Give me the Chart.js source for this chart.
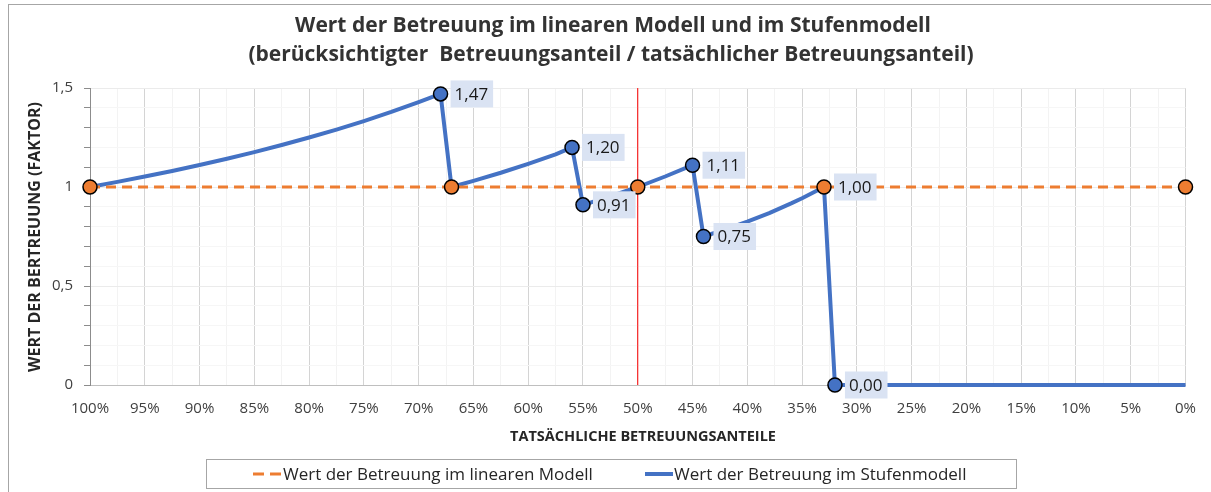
<!DOCTYPE html>
<html>
<head>
<meta charset="utf-8">
<script src="https://cdn.jsdelivr.net/npm/chart.js@4"></script>
<style>
html,body{margin:0;padding:0;background:#fff;}
#wrap{width:1211px;height:492px;position:relative;}
</style>
</head>
<body>
<div id="wrap"><canvas id="c"></canvas></div>
<script>
// ---- data ----
const titleLines = ['Wert der Betreuung im linearen Modell und im Stufenmodell',
                    '(berücksichtigter  Betreuungsanteil / tatsächlicher Betreuungsanteil)'];
const xAxisTitle = 'TATSÄCHLICHE BETREUUNGSANTEILE';
const yAxisTitle = 'WERT DER BERTREUUNG (FAKTOR)';
const seriesNames = ['Wert der Betreuung im linearen Modell', 'Wert der Betreuung im Stufenmodell'];

const linearX = [100, 67, 50, 33, 0];
const linearY = [1, 1, 1, 1, 1];

const stufenX = [100, 97.5, 95, 92.5, 90, 87.5, 85, 82.5, 80, 77.5, 75, 72.5, 70, 68,
                 67, 65, 62.5, 60, 57.5, 56,
                 55, 52.5, 50, 47.5, 45,
                 44, 42, 40, 38, 36, 35, 33,
                 32, 0];
const stufenY = [1.000, 1.026, 1.053, 1.081, 1.111, 1.143, 1.176, 1.212, 1.250, 1.290, 1.333, 1.379, 1.429, 1.47,
                 1.000, 1.031, 1.072, 1.117, 1.165, 1.20,
                 0.91, 0.952, 1.000, 1.053, 1.11,
                 0.75, 0.786, 0.825, 0.868, 0.917, 0.943, 1.00,
                 0.00, 0.00];

const stufenMarkerX = [68, 56, 55, 45, 44, 32];
const labelledX = [68, 56, 55, 45, 44, 33, 32];

const redLineX = [50, 50];
const redLineY = [0, 1.5];

const xTickStep = 5;
const yTickLabels = [0, 0.5, 1, 1.5];

// ---- build ----
const pts = (xs, ys) => xs.map((x, i) => ({x: x, y: ys[i]}));
const FONT = '"Open Sans", Lato, sans-serif';
const fmt = v => v.toFixed(2).replace('.', ',');

const overlay = {
  id: 'overlay',
  beforeDraw(chart) {
    const ctx = chart.ctx;
    ctx.save();
    ctx.fillStyle = '#fff';
    ctx.fillRect(0, 0, chart.width, chart.height);
    ctx.strokeStyle = '#a6a6a6';
    ctx.lineWidth = 1;
    ctx.strokeRect(8.5, 4.5, chart.width + 20, chart.height + 20);
    ctx.restore();
  },
  afterDatasetsDraw(chart) {
    const ctx = chart.ctx;
    const meta = chart.getDatasetMeta(1);
    ctx.save();
    ctx.font = '17px ' + FONT;
    ctx.textBaseline = 'middle';
    meta.data.forEach((el, i) => {
      const raw = chart.data.datasets[1].data[i];
      if (!labelledX.includes(raw.x)) return;
      const t = fmt(raw.y);
      const w = ctx.measureText(t).width + 9;
      ctx.fillStyle = '#dae3f3';
      ctx.fillRect(el.x + 10, el.y - 13.5, w, 27);
      ctx.fillStyle = '#1a1a1a';
      ctx.textAlign = 'left';
      ctx.fillText(t, el.x + 14, el.y + 1);
    });
    ctx.restore();
  },
  afterDraw(chart) {
    const ctx = chart.ctx;
    ctx.save();
    // title
    ctx.fillStyle = '#333333';
    ctx.font = 'bold 21px ' + FONT;
    ctx.textAlign = 'center';
    ctx.textBaseline = 'middle';
    ctx.fillText(titleLines[0], 613, 26);
    ctx.fillText(titleLines[1], 611, 55);
    // axis titles
    ctx.fillStyle = '#262626';
    ctx.font = 'bold 14.5px ' + FONT;
    ctx.fillText(xAxisTitle, 643, 437);
    ctx.save();
    ctx.translate(35, 237);
    ctx.rotate(-Math.PI / 2);
    ctx.font = 'bold 16px ' + FONT;
    ctx.fillText(yAxisTitle, 0, 0);
    ctx.restore();
    // legend
    ctx.strokeStyle = '#a6a6a6';
    ctx.lineWidth = 1;
    ctx.strokeRect(206.5, 459.5, 810, 29);
    const ly = 474;
    ctx.strokeStyle = '#ED7D31';
    ctx.lineWidth = 3;
    ctx.setLineDash([11, 6]);
    ctx.beginPath(); ctx.moveTo(253, ly); ctx.lineTo(282, ly); ctx.stroke();
    ctx.setLineDash([]);
    ctx.strokeStyle = '#4472C4';
    ctx.lineWidth = 4;
    ctx.beginPath(); ctx.moveTo(645, ly); ctx.lineTo(673, ly); ctx.stroke();
    ctx.fillStyle = '#262626';
    ctx.font = '17px ' + FONT;
    ctx.textAlign = 'left';
    ctx.fillText(seriesNames[0], 283, ly + 1);
    ctx.fillText(seriesNames[1], 674, ly + 1);
    ctx.restore();
  }
};

new Chart(document.getElementById('c'), {
  type: 'line',
  data: {
    datasets: [
      {
        label: seriesNames[0],
        data: pts(linearX, linearY),
        borderColor: '#ED7D31',
        borderWidth: 3,
        borderDash: [10, 6],
        pointRadius: 7,
        pointBackgroundColor: '#ED7D31',
        pointBorderColor: '#000',
        pointBorderWidth: 1.5,
        clip: false
      },
      {
        label: seriesNames[1],
        data: pts(stufenX, stufenY),
        borderColor: '#4472C4',
        borderWidth: 4,
        borderJoinStyle: 'round',
        pointRadius: c => (c.raw && stufenMarkerX.includes(c.raw.x)) ? 7 : 0,
        pointBackgroundColor: '#4472C4',
        pointBorderColor: '#000',
        pointBorderWidth: 1.5,
        clip: false
      },
      {
        label: 'ref',
        data: pts(redLineX, redLineY),
        borderColor: '#FF0000',
        borderWidth: 1,
        pointRadius: 0,
        clip: false
      }
    ]
  },
  options: {
    responsive: true,
    maintainAspectRatio: false,
    animation: false,
    devicePixelRatio: 1,
    layout: {padding: {left: 0, top: 88, right: 21, bottom: 62}},
    plugins: {legend: {display: false}, title: {display: false}, tooltip: {enabled: false}},
    scales: {
      x: {
        type: 'linear', min: 0, max: 100, reverse: true,
        afterFit: s => { s.height = 45; },
        ticks: {
          stepSize: xTickStep / 2, autoSkip: false, maxRotation: 0, padding: 15,
          color: '#404040', font: {family: FONT, size: 15},
          callback: v => (Math.abs(v % xTickStep) < 1e-6) ? v + '%' : ''
        },
        grid: {
          drawTicks: false,
          color: c => (Math.abs(c.tick.value % xTickStep) < 1e-6) ? '#d4d4d4' : '#f3f3f3'
        },
        border: {display: true, color: '#bfbfbf', width: 1}
      },
      y: {
        min: 0, max: 1.5,
        afterFit: s => { s.width = 90; },
        ticks: {
          stepSize: 0.1, autoSkip: false, padding: 11,
          color: '#404040', font: {family: FONT, size: 15},
          callback: v => {
            const hit = yTickLabels.find(t => Math.abs(t - v) < 1e-6);
            return hit === undefined ? '' : String(hit).replace('.', ',');
          }
        },
        grid: {
          drawTicks: true, tickLength: 6, tickColor: '#8c8c8c',
          color: c => yTickLabels.some(t => Math.abs(t - c.tick.value) < 1e-6) ? '#ebebeb' : '#f6f6f6'
        },
        border: {display: true, color: '#8c8c8c', width: 1}
      }
    }
  },
  plugins: [overlay]
});
</script>
</body>
</html>
